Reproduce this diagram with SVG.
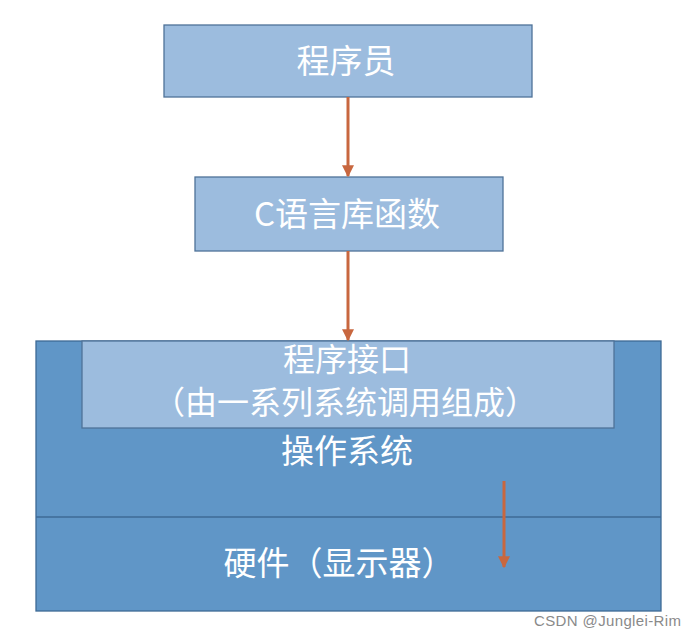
<svg xmlns="http://www.w3.org/2000/svg" width="696" height="639" viewBox="0 0 696 639">
<style>
.light{fill:#9cbcde;stroke:#4f7298;stroke-width:1.3}
.dark{fill:#6096c7;stroke:#3e6a96;stroke-width:1.3}
.t{font-family:"Noto Sans CJK SC","Noto Sans",sans-serif;fill:#ffffff;text-anchor:middle;font-size:33px}
.s{font-size:32px}
.arr{stroke:#c8673f;stroke-width:3;fill:none}
</style>
<defs>
<marker id="ah" viewBox="0 0 10 10" refX="9" refY="5" markerWidth="4" markerHeight="4" orient="auto" markerUnits="strokeWidth">
<path d="M0,0 L10,5 L0,10 Z" fill="#c8673f"/>
</marker>
</defs>
<rect width="696" height="639" fill="#ffffff"/>
<g id="os">
<rect class="dark" x="36" y="341" width="625" height="270"/>
<line x1="36" y1="517" x2="661" y2="517" stroke="#3e6a96" stroke-width="1.3"/>
<text class="t" x="347" y="463">操作系统</text>
</g>
<g id="hardware">
<text class="t" x="339" y="575">硬件（显示器）</text>
</g>
<g id="programmer">
<rect class="light" x="164" y="25" width="368" height="72"/>
<text class="t" x="346" y="73">程序员</text>
</g>
<g id="clib">
<rect class="light" x="195" y="177" width="308" height="74"/>
<text class="t" x="347" y="226">C语言库函数</text>
</g>
<g id="api">
<rect class="light" x="82" y="341" width="532" height="87"/>
<text class="t s" x="347" y="371">程序接口</text>
<text class="t s" x="345" y="414">（由一系列系统调用组成）</text>
</g>
<g id="connectors">
<line class="arr" x1="348" y1="97" x2="348" y2="176" marker-end="url(#ah)"/>
<line class="arr" x1="348" y1="251" x2="348" y2="340" marker-end="url(#ah)"/>
<line class="arr" x1="504" y1="481" x2="504" y2="567" marker-end="url(#ah)"/>
</g>
<text x="534" y="626" font-family="'Liberation Sans',sans-serif" font-size="15" fill="#8a8a8a" textLength="147">CSDN @Junglei-Rim</text>
</svg>
